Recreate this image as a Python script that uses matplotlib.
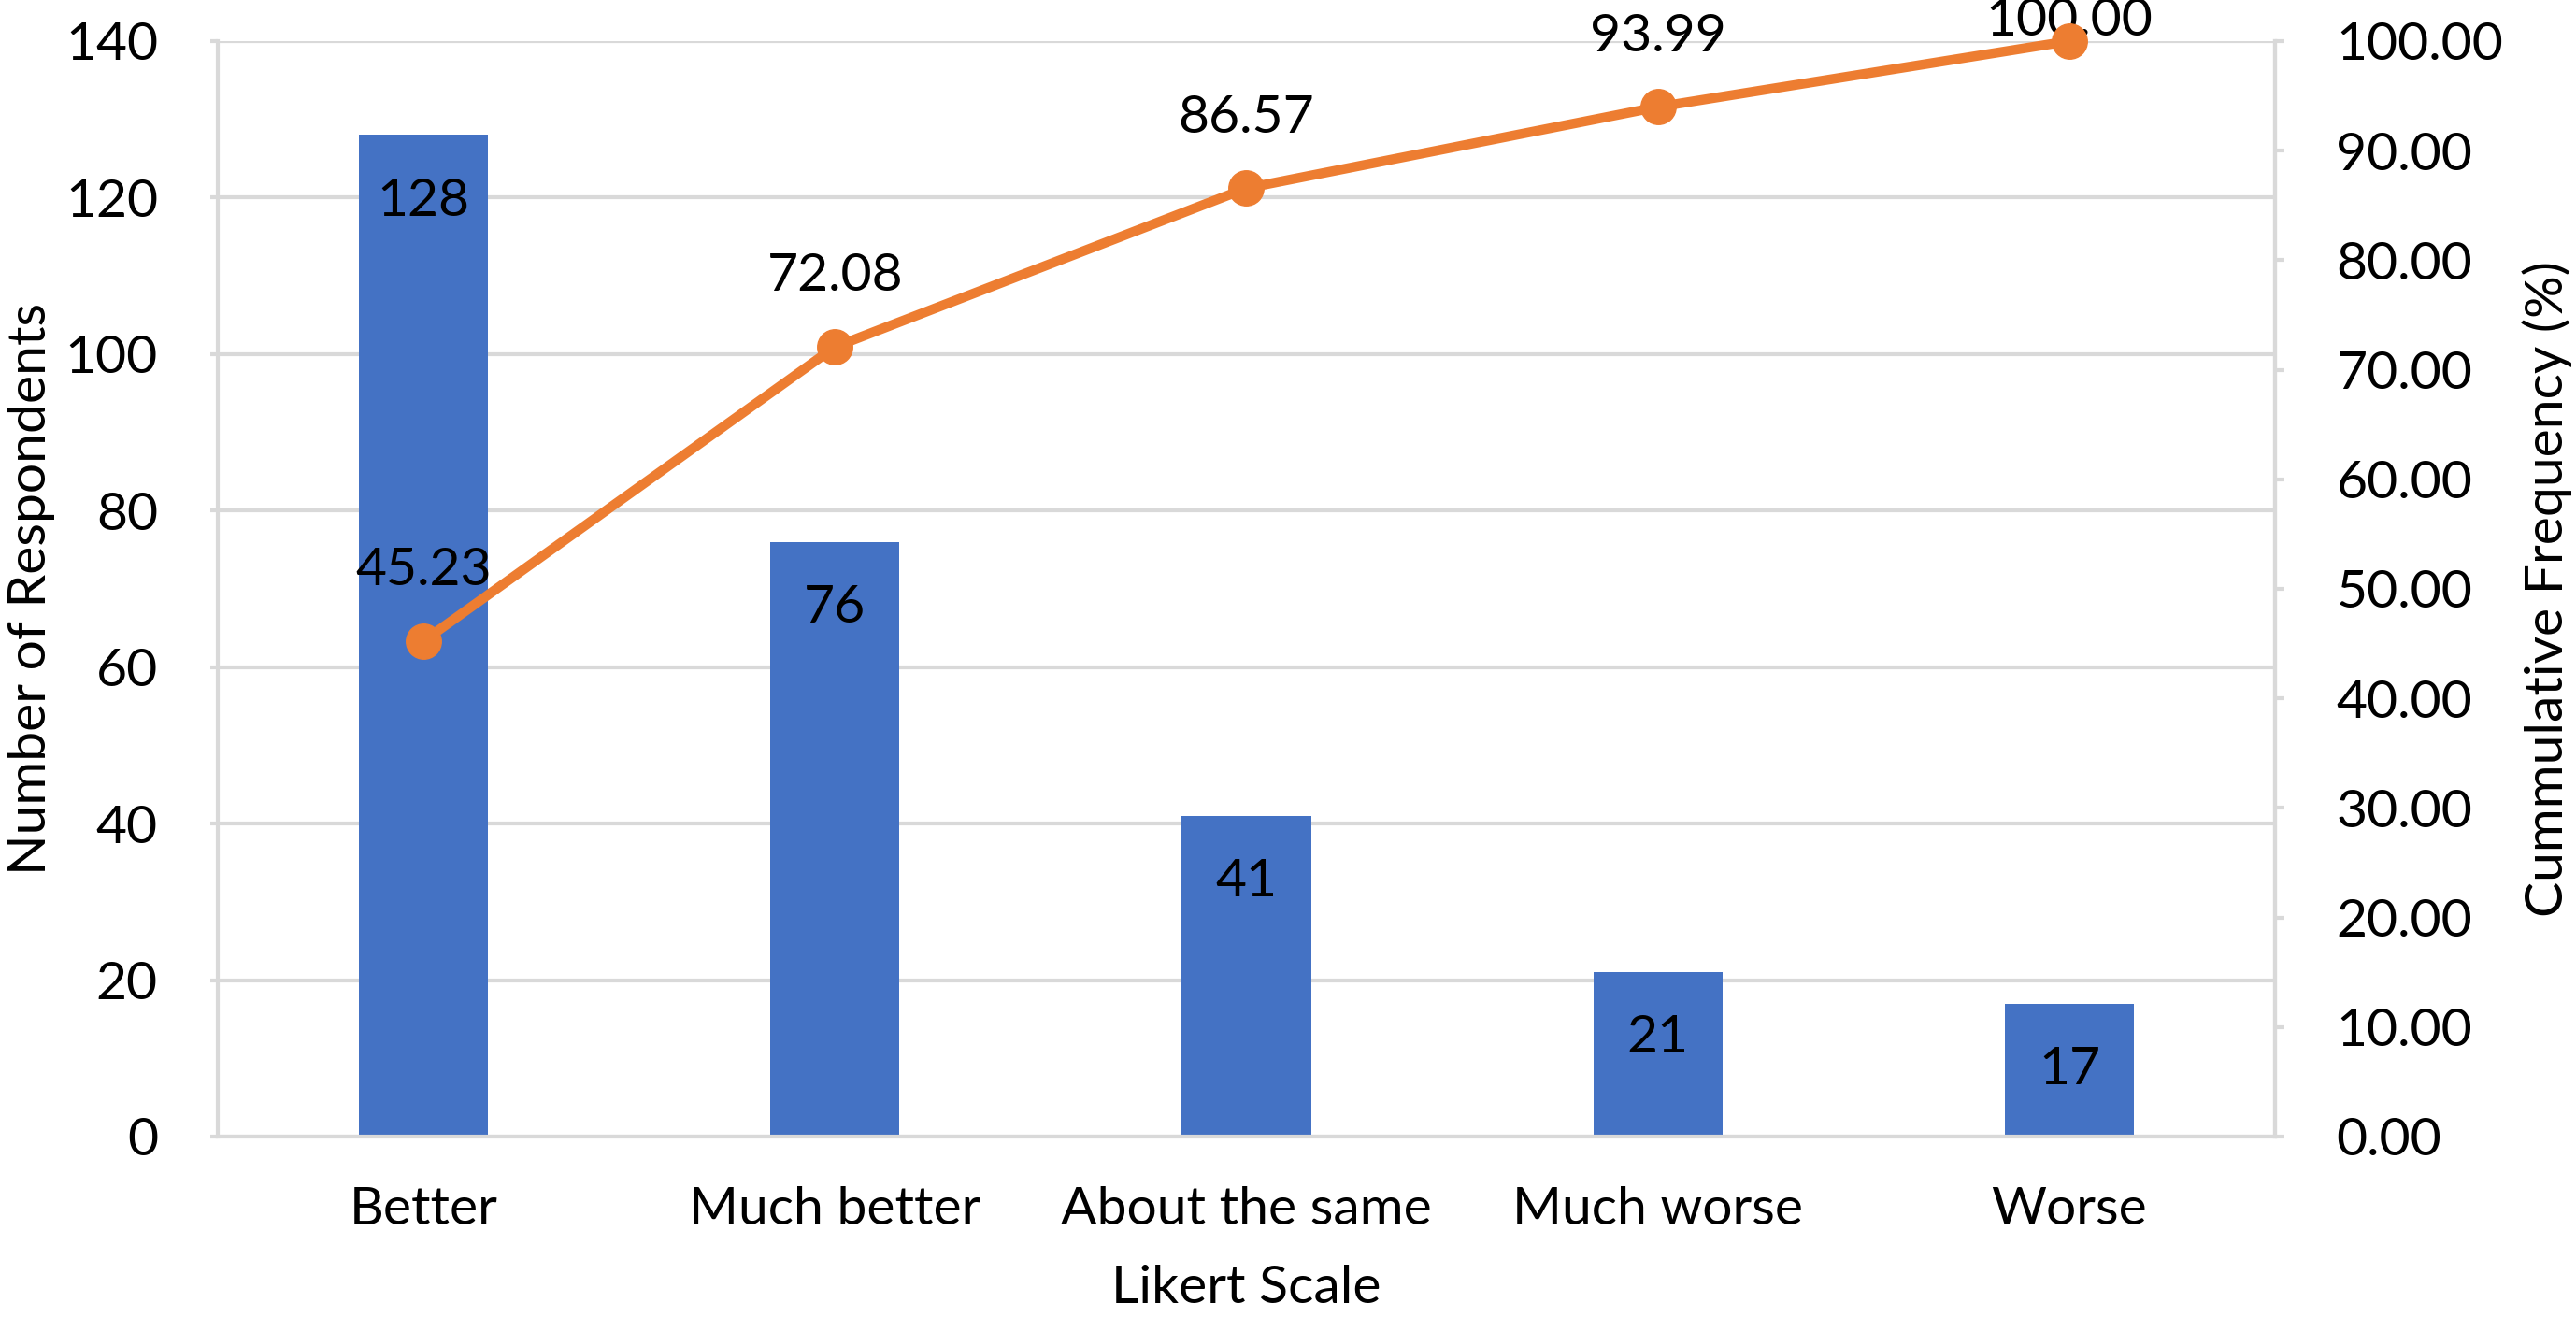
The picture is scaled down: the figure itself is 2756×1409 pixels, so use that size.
import matplotlib.pyplot as plt
from matplotlib.ticker import FormatStrFormatter

# data
categories = ["Better", "Much better", "About the same", "Much worse", "Worse"]
respondents = [128, 76, 41, 21, 17]
cumulative = [45.23, 72.08, 86.57, 93.99, 100.00]

# baseline of the line labels above each marker (points), as Excel placed them
cum_label_offsets = [43, 43, 43, 43, 4.5]

plt.rcParams["font.family"] = ["Lato", "DejaVu Sans"]
bar_color = "#4472C4"
line_color = "#ED7D31"
grid_color = "#D9D9D9"
fs = 41

fig = plt.figure(figsize=(27.56, 14.09), dpi=100)
ax = fig.add_axes([0.0845, 0.137, 0.7987, 0.8318])
x = list(range(len(categories)))

ax.bar(x, respondents, width=0.314, color=bar_color, zorder=2)
for xi, v in zip(x, respondents):
    ax.annotate(str(v), (xi, v), xytext=(0, -62), textcoords="offset points",
                ha="center", va="baseline", fontsize=fs, color="black", zorder=3)

ax.set_xlim(-0.5, len(categories) - 0.5)
ax.set_ylim(0, 140)
ax.set_yticks(range(0, 141, 20))
ax.set_xticks(x)
ax.set_xticklabels(categories)
ax.yaxis.grid(True, color=grid_color, linewidth=3, zorder=0)
ax.set_axisbelow(True)
ax.spines["top"].set_visible(False)
for side in ["left", "right", "bottom"]:
    ax.spines[side].set_color(grid_color)
    ax.spines[side].set_linewidth(3)
ax.tick_params(axis="y", length=6, width=3, color=grid_color, labelsize=fs, pad=40)
ax.tick_params(axis="x", length=0, labelsize=fs, pad=38)
ax.set_xlabel("Likert Scale", fontsize=fs, labelpad=24)
ax.set_ylabel("Number of Respondents", fontsize=fs)
ax.yaxis.set_label_coords(-0.079, 0.5)

ax2 = ax.twinx()
ax2.plot(x, cumulative, color=line_color, linewidth=7.5, marker="o",
         markersize=27, zorder=4, clip_on=False)
for xi, v, off in zip(x, cumulative, cum_label_offsets):
    ax2.annotate(f"{v:.2f}", (xi, v), xytext=(0, off), textcoords="offset points",
                 ha="center", va="baseline", fontsize=fs, color="black",
                 annotation_clip=False)
ax2.set_ylim(0, 100)
ax2.set_yticks(range(0, 101, 10))
ax2.yaxis.set_major_formatter(FormatStrFormatter("%.2f"))
for side in ["top", "left", "bottom"]:
    ax2.spines[side].set_visible(False)
ax2.spines["right"].set_color(grid_color)
ax2.spines["right"].set_linewidth(3)
ax2.tick_params(axis="y", length=7, width=3, color=grid_color, labelsize=fs, pad=40)
ax2.set_ylabel("Cummulative Frequency (%)", fontsize=fs)
ax2.yaxis.set_label_coords(1.12, 0.5)

fig.savefig("out.png", dpi=100, facecolor="white")
